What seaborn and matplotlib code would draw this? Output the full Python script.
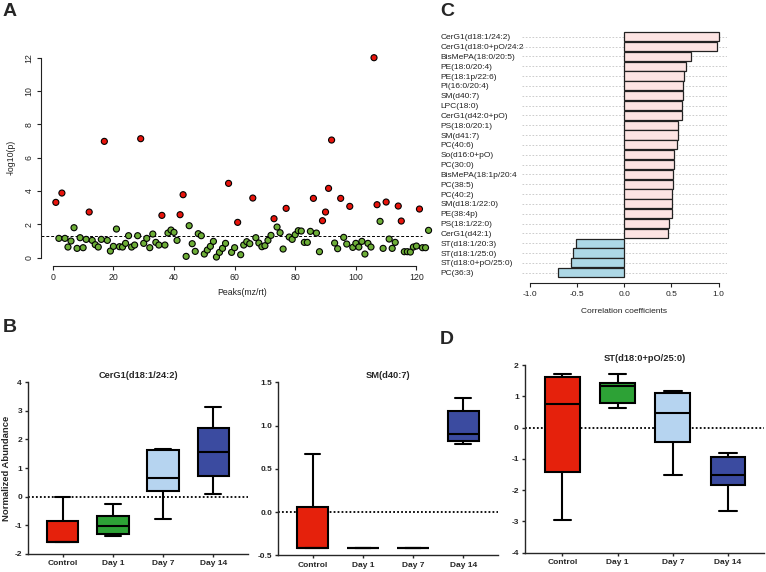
import numpy as np
import pandas as pd
import matplotlib
matplotlib.use('Agg')
import matplotlib.pyplot as plt
import seaborn as sns

sns.set_style('ticks')
plt.rcParams['font.family'] = ['Liberation Sans', 'DejaVu Sans']

W, H = 766, 572

# panel A: -log10(p) for each peak, peaks 1..124
neg_log_p = [3.32, 1.16, 3.88, 1.16, 0.64, 1.00, 1.80, 0.56, 1.20, 0.60,
             1.10, 2.74, 1.04, 0.78, 0.64, 1.10, 6.98, 1.04, 0.40, 0.68,
             1.72, 0.66, 0.64, 0.86, 1.32, 0.64, 0.76, 1.32, 7.14, 0.86,
             1.16, 0.60, 1.42, 0.92, 0.76, 2.54, 0.76, 1.48, 1.66, 1.52,
             1.04, 2.58, 3.78, 0.08, 1.92, 0.84, 0.38, 1.44, 1.32, 0.22,
             0.46, 0.68, 0.98, 0.04, 0.32, 0.56, 0.86, 4.46, 0.32, 0.60,
             2.12, 0.18, 0.76, 0.96, 0.84, 3.58, 1.20, 0.88, 0.66, 0.72,
             1.04, 1.34, 2.34, 1.84, 1.50, 0.52, 2.96, 1.24, 1.10, 1.38,
             1.62, 1.60, 0.92, 0.92, 1.58, 3.56, 1.48, 0.36, 2.22, 2.74,
             4.16, 7.06, 0.88, 0.54, 3.56, 1.22, 0.82, 3.08, 0.62, 0.86,
             0.64, 0.98, 0.22, 0.86, 0.64, 12.0, 3.18, 2.18, 0.56, 3.34,
             1.12, 0.56, 0.92, 3.10, 2.20, 0.36, 0.36, 0.34, 0.64, 0.70,
             2.92, 0.60, 0.60, 1.64]
sig_peaks = [1, 3, 12, 17, 29, 36, 42, 43, 58, 61, 66, 73, 77, 86, 89, 90,
             91, 92, 95, 98, 106, 107, 110, 114, 115, 121]

# panel C
lipids = ['CerG1(d18:1/24:2)', 'CerG1(d18:0+pO/24:2', 'BisMePA(18:0/20:5)',
          'PE(18:0/20:4)', 'PE(18:1p/22:6)', 'PI(16:0/20:4)', 'SM(d40:7)',
          'LPC(18:0)', 'CerG1(d42:0+pO)', 'PS(18:0/20:1)', 'SM(d41:7)',
          'PC(40:6)', 'So(d16:0+pO)', 'PC(30:0)', 'BisMePA(18:1p/20:4',
          'PC(38:5)', 'PC(40:2)', 'SM(d18:1/22:0)', 'PE(38:4p)',
          'PS(18:1/22:0)', 'CerG1(d42:1)', 'ST(d18:1/20:3)', 'ST(d18:1/25:0)',
          'ST(d18:0+pO/25:0)', 'PC(36:3)']
corr = [1.0, 0.986, 0.707, 0.657, 0.629, 0.625, 0.618, 0.615, 0.611, 0.569,
        0.572, 0.555, 0.527, 0.523, 0.516, 0.512, 0.509, 0.505, 0.502, 0.477,
        0.463, -0.505, -0.544, -0.558, -0.703]

# panels B, D: min, q1, median, q3, max per group
groups = ['Control', 'Day 1', 'Day 7', 'Day 14']
group_colors = ['#E5210C', '#2DA236', '#B6D4F0', '#3B4BA0']
cerg1_stats = [[-1.60, -1.60, -1.60, -0.86, -0.02],
               [-1.38, -1.31, -1.04, -0.69, -0.27],
               [-0.80, 0.18, 0.66, 1.62, 1.67],
               [0.09, 0.73, 1.57, 2.41, 3.15]]
sm_stats = [[-0.415, -0.415, -0.415, 0.059, 0.668],
            [-0.415, -0.415, -0.415, -0.415, -0.415],
            [-0.415, -0.415, -0.415, -0.415, -0.415],
            [0.79, 0.826, 0.907, 1.165, 1.315]]
st_stats = [[-2.94, -1.41, 0.755, 1.63, 1.71],
            [0.63, 0.78, 1.33, 1.42, 1.71],
            [-1.53, -0.47, 0.45, 1.11, 1.17],
            [-2.66, -1.84, -1.52, -0.94, -0.82]]


def rect(l, t, r, b):
    return [l / W, 1 - b / H, (r - l) / W, (b - t) / H]


fig = plt.figure(figsize=(W / 100, H / 100), dpi=100)

# ---- A
axA = fig.add_axes(rect(41, 49.7, 443.4, 265.7))
dfA = pd.DataFrame({'peak': np.arange(1, len(neg_log_p) + 1), 'p': neg_log_p})
dfA['sig'] = np.where(dfA['peak'].isin(sig_peaks), 'sig', 'ns')
axA.hlines(1.3, -3.9, 122, colors='black', linestyles=(0, (3, 2)), lw=0.7)
sns.scatterplot(data=dfA, x='peak', y='p', hue='sig',
                palette={'sig': '#E8140C', 'ns': '#6DAE37'},
                edgecolor='black', linewidth=0.8, s=19, legend=False,
                ax=axA, zorder=3)
axA.set_xlim(-3.9, 128.9)
axA.set_ylim(-0.48, 12.48)
axA.set_xticks(range(0, 121, 20))
axA.set_yticks(range(0, 13, 2))
axA.spines[['top', 'right']].set_visible(False)
axA.spines['left'].set_bounds(0, 12)
axA.spines['bottom'].set_bounds(0, 120)
for s in ['left', 'bottom']:
    axA.spines[s].set_linewidth(0.8)
    axA.spines[s].set_color('#222222')
axA.tick_params(labelsize=6.3, length=3, width=0.8, pad=2.5,
                color='#222222', labelcolor='#222222')
for t in axA.get_yticklabels():
    t.set_rotation(90)
    t.set_va('center')
axA.set_xlabel('Peaks(mz/rt)', fontsize=6.3, color='#222222', labelpad=4)
axA.set_ylabel('-log10(p)', fontsize=6.3, color='#222222', labelpad=6)

# ---- C
axC = fig.add_axes(rect(521.7, 30.8, 726.7, 278.6))
dfC = pd.DataFrame({'lipid': lipids, 'r': corr})
bar_cols = ['#FDE4E3' if v > 0 else '#ADD8E6' for v in corr]
sns.barplot(data=dfC, x='r', y='lipid', hue='lipid', palette=bar_cols,
            orient='h', saturation=1, edgecolor='#222222', linewidth=0.9,
            width=0.94, legend=False, ax=axC)
axC.set_axisbelow(True)
axC.yaxis.grid(True, ls=(0, (2, 2)), color='#C4C4C4', lw=0.6)
axC.xaxis.grid(False)
axC.set_xlim(-1.085, 1.085)
axC.set_ylim(24.6, -0.6)
axC.set_xticks([-1, -0.5, 0, 0.5, 1])
axC.set_xticklabels(['-1.0', '-0.5', '0.0', '0.5', '1.0'])
for s in ['left', 'top', 'right']:
    axC.spines[s].set_visible(False)
axC.spines['bottom'].set_position(('outward', 3.4))
axC.spines['bottom'].set_bounds(-1, 1)
axC.spines['bottom'].set_linewidth(0.8)
axC.spines['bottom'].set_color('#222222')
axC.tick_params(axis='x', labelsize=6, length=3, width=0.8, pad=2.5,
                color='#222222', labelcolor='#222222')
axC.tick_params(axis='y', labelsize=6, length=0, pad=58.3,
                labelcolor='#222222')
for t in axC.get_yticklabels():
    t.set_ha('left')
axC.set_ylabel('')
axC.set_xlabel('Correlation coefficients', fontsize=6, color='#222222',
               labelpad=7)


# ---- B, D
def draw_box(box_rect, stats, title, xlim, ylim, yticks, ylabels):
    ax = fig.add_axes(rect(*box_rect))
    df = pd.DataFrame({'group': np.repeat(groups, 5),
                       'val': np.concatenate(stats)})
    ax.axhline(0, color='black', ls=(0, (1, 1.2)), lw=1.3, zorder=0)
    sns.boxplot(data=df, x='group', y='val', hue='group',
                palette=group_colors, saturation=1, whis=(0, 100),
                width=0.63, linecolor='black', linewidth=1.5,
                legend=False, ax=ax)
    ax.set_xlim(*xlim)
    ax.set_ylim(*ylim)
    ax.set_yticks(yticks)
    ax.set_yticklabels(ylabels)
    sns.despine(ax=ax)
    for s in ['left', 'bottom']:
        ax.spines[s].set_linewidth(1.0)
    ax.tick_params(labelsize=6, length=2.5, width=1.0, pad=2)
    for t in ax.get_xticklabels() + ax.get_yticklabels():
        t.set_fontweight('bold')
    ax.set_xlabel('')
    ax.set_ylabel('')
    ax.set_title(title, fontsize=6.7, fontweight='bold', pad=3)
    return ax


axB1 = draw_box((28.3, 382.3, 247.6, 553.7), cerg1_stats, 'CerG1(d18:1/24:2)',
                (-0.68, 3.68), (-2, 4), range(-2, 5), [str(v) for v in range(-2, 5)])
axB1.set_ylabel('Normalized Abundance', fontsize=6.8, fontweight='bold')
axB1.yaxis.set_label_coords(-17.3 / (247.6 - 28.3), 0.5)
draw_box((278.3, 382.3, 497.6, 555.3), sm_stats, 'SM(d40:7)',
         (-0.68, 3.68), (-0.5, 1.5), [-0.5, 0, 0.5, 1.0, 1.5],
         ['-0.5', '0.0', '0.5', '1.0', '1.5'])
draw_box((525, 365, 764, 552.7), st_stats, 'ST(d18:0+pO/25:0)',
         (-0.675, 3.65), (-4, 2), range(-4, 3), [str(v) for v in range(-4, 3)])

for letter, x, y in [('A', 10, 12), ('B', 10, 327), ('C', 447, 12), ('D', 447, 340)]:
    fig.text(x / W, 1 - y / H, letter, fontsize=14, fontweight='bold',
             ha='center', va='center')

fig.savefig('out.png', dpi=100)
